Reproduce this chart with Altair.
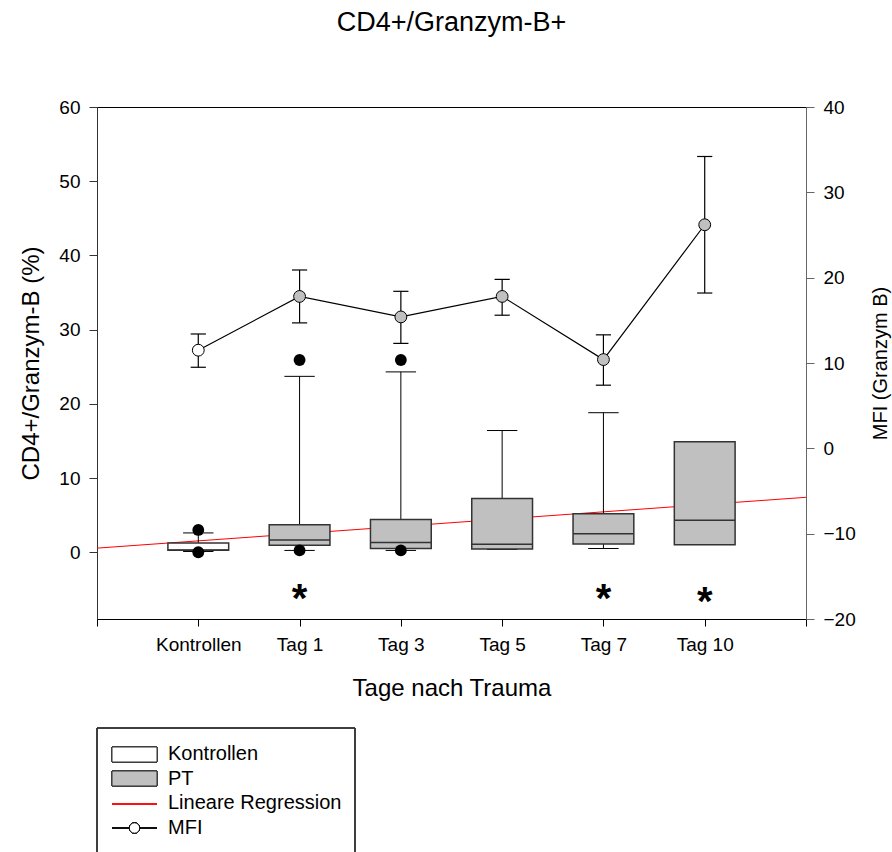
import json
import altair as alt
import pandas as pd

# ---- data -------------------------------------------------------------
groups = ["Kontrollen", "Tag 1", "Tag 3", "Tag 5", "Tag 7", "Tag 10"]
positions = [1, 2, 3, 4, 5, 6]

# box plots, CD4+/Granzym-B (%)
box_q1 = [0.25, 0.95, 0.5, 0.45, 1.1, 1.0]
box_median = [0.3, 1.65, 1.3, 1.08, 2.5, 4.3]
box_q3 = [1.25, 3.7, 4.4, 7.25, 5.2, 14.9]
whisker_low = [0.1, 0.24, 0.24, 0.38, 0.5, None]
whisker_high = [2.6, 23.7, 24.3, 16.4, 18.8, None]

# outliers
outlier_pos = [1, 1, 2, 2, 3, 3]
outlier_val = [3.0, 0.0, 25.9, 0.24, 25.9, 0.24]

# significance markers
star_pos = [2, 5, 6]
star_val = [-5.3, -5.3, -5.7]

# linear regression end points
reg_x = [0, 7]
reg_y = [0.55, 7.4]

# MFI (Granzym B), right axis
mfi_mean = [11.5, 17.8, 15.4, 17.8, 10.4, 26.2]
mfi_low = [9.5, 14.7, 12.3, 15.6, 7.4, 18.2]
mfi_high = [13.4, 20.9, 18.4, 19.8, 13.3, 34.2]

legend_labels = ["Kontrollen", "PT", "Lineare Regression", "MFI"]

# ---- tables -----------------------------------------------------------
kind = ["Kontrollen"] + ["PT"] * 5
boxes = pd.DataFrame({
    "group": groups, "pos": positions, "kind": kind,
    "q1": box_q1, "median": box_median, "q3": box_q3,
    "lo": whisker_low, "hi": whisker_high,
})
whiskers = boxes.dropna(subset=["hi"])
outliers = pd.DataFrame({"pos": outlier_pos, "val": outlier_val})
stars = pd.DataFrame({"pos": star_pos, "val": star_val})
regression = pd.DataFrame({"x": reg_x, "y": reg_y})
mfi = pd.DataFrame({"pos": positions, "kind": kind, "mean": mfi_mean,
                    "lo": mfi_low, "hi": mfi_high})
legend_df = pd.DataFrame({"label": legend_labels, "row": list(range(len(legend_labels)))})

FONT = "Liberation Sans"
BOX_FILL = "#c0c0c0"
EDGE = "#333333"

tick_labels = json.dumps([""] + groups + [""])
x_axis = alt.Axis(
    values=list(range(0, 8)), labelExpr=f"{tick_labels}[datum.value]",
    title="Tage nach Trauma", grid=False, tickSize=7, labelPadding=9,
    titlePadding=22, labelFontSize=19, titleFontSize=24, domainColor="black",
    tickColor="black", labelColor="black", titleColor="black",
    labelFont=FONT, titleFont=FONT, titleFontWeight="normal",
)
x_scale = alt.Scale(domain=[0, 7], nice=False, zero=False)
left_scale = alt.Scale(domain=[-9, 60], nice=False, zero=False)
right_scale = alt.Scale(domain=[-20, 40], nice=False, zero=False)


def xq(field):
    return alt.X(field, type="quantitative", scale=x_scale, axis=x_axis)


left_axis = alt.Axis(
    values=list(range(0, 61, 10)), title="CD4+/Granzym-B (%)", grid=False,
    tickSize=8, labelPadding=9, titlePadding=15, labelFontSize=19,
    titleFontSize=24, domainColor=EDGE, tickColor=EDGE, labelColor="black",
    titleColor="black", labelFont=FONT, titleFont=FONT, titleFontWeight="normal",
)
right_axis = alt.Axis(
    orient="right", values=list(range(-20, 41, 10)), title="MFI (Granzym B)",
    titleAngle=270, grid=False, tickSize=8, labelPadding=9, titlePadding=35,
    labelFontSize=19, titleFontSize=20, domainColor="#666666",
    tickColor="#666666", labelColor="black", titleColor="black",
    labelFont=FONT, titleFont=FONT, titleFontWeight="normal",
)


def yl(field):
    return alt.Y(field, type="quantitative", scale=left_scale, axis=left_axis)


def yr(field):
    return alt.Y(field, type="quantitative", scale=right_scale, axis=right_axis)


HALF_BOX = 0.3
HALF_CAP = 0.15
HALF_ECAP = 0.075

box_base = alt.Chart(boxes).transform_calculate(
    x0=f"datum.pos - {HALF_BOX}", x1=f"datum.pos + {HALF_BOX}"
)
box_rects = box_base.mark_rect(stroke=EDGE, strokeWidth=1.5).encode(
    x=xq("x0"), x2="x1", y=yl("q1"), y2="q3",
    fill=alt.Fill("kind:N", scale=alt.Scale(domain=["Kontrollen", "PT"],
                                            range=["white", BOX_FILL]), legend=None),
)
box_medians = box_base.mark_rule(color=EDGE, strokeWidth=1.5).encode(
    x=xq("x0"), x2="x1", y=yl("median"),
)

wh_base = alt.Chart(whiskers).transform_calculate(
    c0=f"datum.pos - {HALF_CAP}", c1=f"datum.pos + {HALF_CAP}"
)
wh_upper = wh_base.mark_rule(color="black", strokeWidth=1).encode(
    x=xq("pos"), y=yl("q3"), y2="hi",
)
wh_lower = wh_base.mark_rule(color="black", strokeWidth=1).encode(
    x=xq("pos"), y=yl("lo"), y2="q1",
)
cap_hi = wh_base.mark_rule(color="black", strokeWidth=1).encode(
    x=xq("c0"), x2="c1", y=yl("hi"),
)
cap_lo = wh_base.mark_rule(color="black", strokeWidth=1).encode(
    x=xq("c0"), x2="c1", y=yl("lo"),
)

outlier_pts = alt.Chart(outliers).mark_point(
    filled=True, color="black", size=140, opacity=1
).encode(x=xq("pos"), y=yl("val"))

reg_line = alt.Chart(regression).mark_line(color="red", strokeWidth=1).encode(
    x=xq("x"), y=yl("y"),
)

star_text = alt.Chart(stars).mark_text(
    text="*", font=FONT, fontSize=40, fontWeight="bold", baseline="middle", dy=8,
    color="black",
).encode(x=xq("pos"), y=yl("val"))

left_group = alt.layer(
    reg_line, wh_upper, wh_lower, cap_hi, cap_lo, box_rects, box_medians,
    outlier_pts, star_text,
)

# MFI series on the right axis
mfi_base = alt.Chart(mfi).transform_calculate(
    e0=f"datum.pos - {HALF_ECAP}", e1=f"datum.pos + {HALF_ECAP}"
)
mfi_bars = mfi_base.mark_rule(color="black", strokeWidth=1.2).encode(
    x=xq("pos"), y=yr("lo"), y2="hi",
)
mfi_cap_hi = mfi_base.mark_rule(color="black", strokeWidth=1.2).encode(
    x=xq("e0"), x2="e1", y=yr("hi"),
)
mfi_cap_lo = mfi_base.mark_rule(color="black", strokeWidth=1.2).encode(
    x=xq("e0"), x2="e1", y=yr("lo"),
)
mfi_line = mfi_base.mark_line(color="black", strokeWidth=1.2).encode(
    x=xq("pos"), y=yr("mean"),
)
mfi_pts = mfi_base.mark_point(
    filled=True, size=140, stroke="black", strokeWidth=1, opacity=1
).encode(
    x=xq("pos"), y=yr("mean"),
    fill=alt.Fill("kind:N", scale=alt.Scale(domain=["Kontrollen", "PT"],
                                            range=["white", BOX_FILL]), legend=None),
)
mfi_group = alt.layer(mfi_line, mfi_bars, mfi_cap_hi, mfi_cap_lo, mfi_pts)

# legend below the plot
legend_frame = alt.Chart(legend_df).mark_rect(
    fill=None, stroke=EDGE, strokeWidth=1
).encode(x=alt.value(0), x2=alt.value(258), y=alt.value(621), y2=alt.value(760))
sw_ctrl = alt.Chart(legend_df).mark_rect(
    fill="white", stroke=EDGE, strokeWidth=1
).encode(x=alt.value(15), x2=alt.value(60), y=alt.value(640), y2=alt.value(655))
sw_pt = alt.Chart(legend_df).mark_rect(
    fill=BOX_FILL, stroke=EDGE, strokeWidth=1
).encode(x=alt.value(15), x2=alt.value(60), y=alt.value(664), y2=alt.value(679))
sw_reg = alt.Chart(legend_df).mark_rule(color="red", strokeWidth=1).encode(
    x=alt.value(15), x2=alt.value(60), y=alt.value(697)
)
sw_mfi_line = alt.Chart(legend_df).mark_rule(color="black", strokeWidth=1.2).encode(
    x=alt.value(15), x2=alt.value(60), y=alt.value(721)
)
sw_mfi_pt = alt.Chart(legend_df).mark_point(
    filled=True, fill="white", stroke="black", strokeWidth=1, size=110, opacity=1
).encode(x=alt.value(37.5), y=alt.value(721))
legend_text = alt.Chart(legend_df).mark_text(
    align="left", baseline="middle", font=FONT, fontSize=20, color="black"
).encode(
    x=alt.value(71),
    y=alt.Y("row:Q", scale=alt.Scale(domain=[0, 3], range=[647, 721]), axis=None),
    text="label:N",
)
legend_group = alt.layer(
    legend_frame, sw_ctrl, sw_pt, sw_reg, sw_mfi_line, sw_mfi_pt, legend_text
)

chart = alt.layer(left_group, mfi_group, legend_group).resolve_scale(
    y="independent", fill="independent"
).properties(
    width=709, height=512,
    title=alt.TitleParams(
        "CD4+/Granzym-B+", frame="group", anchor="middle", baseline="alphabetic",
        offset=40, font=FONT, fontSize=27, fontWeight="normal", color="black",
    ),
    autosize=alt.AutoSizeParams(type="none"),
    padding={"left": 97, "top": 107, "right": 86, "bottom": 233},
).configure_view(stroke="black", strokeWidth=1)

chart.save("out.html", embed_options={"renderer": "svg", "actions": False})
